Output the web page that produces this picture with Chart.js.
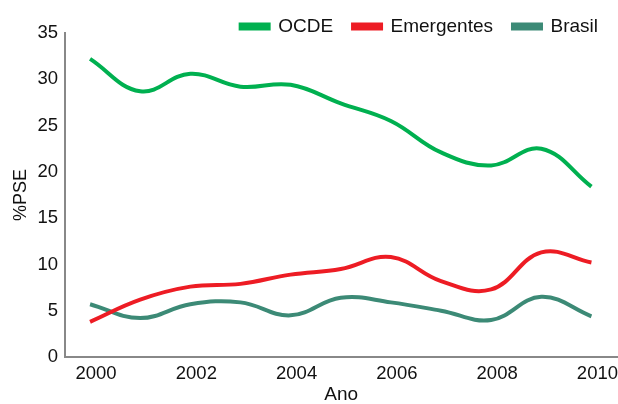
<!DOCTYPE html>
<html>
<head>
<meta charset="utf-8">
<script src="https://cdn.jsdelivr.net/npm/chart.js@4.4.1/dist/chart.umd.min.js"></script>
<style>
  html, body { margin: 0; padding: 0; background: #ffffff; }
  #wrap { width: 618px; height: 404px; position: relative; }
</style>
</head>
<body>
<div id="wrap"><canvas id="c" width="618" height="404"></canvas></div>
<script>
const years = [2000, 2001, 2002, 2003, 2004, 2005, 2006, 2007, 2008, 2009, 2010];
const tickYears = [2000, 2002, 2004, 2006, 2008, 2010];
const ocde = [32.2, 28.7, 30.6, 29.2, 29.4, 27.4, 25.5, 22.1, 20.7, 22.5, 18.4];
const emergentes = [3.8, 6.2, 7.6, 7.9, 8.9, 9.5, 10.8, 8.2, 7.3, 11.3, 10.2];
const brasil = [5.7, 4.2, 5.7, 5.9, 4.5, 6.4, 5.9, 5.0, 4.0, 6.5, 4.4];
const seriesNames = ['OCDE', 'Emergentes', 'Brasil'];
const seriesColors = ['#00B050', '#ED1C24', '#3C8A76'];
const seriesValues = [ocde, emergentes, brasil];

const FONT = "'Liberation Sans', Arial, sans-serif";

const datasets = seriesNames.map((name, i) => ({
  label: name,
  data: years.map((y, j) => ({ x: y, y: seriesValues[i][j] })),
  borderColor: seriesColors[i],
  backgroundColor: seriesColors[i],
  borderWidth: 4,
  pointRadius: 0,
  tension: 0.4,
  fill: false
}));

const legendFix = {
  id: 'legendFix',
  afterInit(chart) {
    const lg = chart.legend;
    const origFit = lg.fit;
    lg.fit = function () { origFit.call(this); this.height = 36; };
    const origDraw = lg.draw;
    lg.draw = function () {
      const b = this.bottom;
      this.bottom = b + 12;
      origDraw.call(this);
      this.bottom = b;
    };
  }
};

new Chart(document.getElementById('c'), {
  type: 'line',
  data: { datasets },
  plugins: [legendFix],
  options: {
    responsive: false,
    animation: false,
    layout: { padding: { top: -3, right: 0, left: 2, bottom: 0 } },
    plugins: {
      tooltip: { enabled: false },
      legend: {
        position: 'top',
        align: 'end',
        labels: {
          font: { family: FONT, size: 19 },
          color: '#111',
          boxWidth: 28,
          boxHeight: 4,
          padding: 20
        }
      }
    },
    scales: {
      x: {
        type: 'linear',
        min: 1999.5,
        max: 2010.52,
        afterBuildTicks: (s) => { s.ticks = tickYears.map(v => ({ value: v })); },
        afterFit: (s) => { s.height = 47; },
        grid: { display: false, drawTicks: false },
        border: { display: true, color: '#888888', width: 2 },
        ticks: {
          font: { family: FONT, size: 18.5 },
          color: '#111',
          padding: 6,
          labelOffset: 6,
          maxRotation: 0,
          callback: (v) => String(v)
        },
        title: {
          display: true,
          text: 'Ano',
          font: { family: FONT, size: 19, lineHeight: 1 },
          color: '#111',
          padding: { top: 0, bottom: 0 }
        }
      },
      y: {
        min: 0,
        max: 35,
        afterFit: (s) => { s.width = 63; },
        grid: { display: false, drawTicks: false },
        border: { display: true, color: '#888888', width: 2 },
        ticks: {
          stepSize: 5,
          font: { family: FONT, size: 18.5 },
          color: '#111',
          padding: 7
        },
        title: {
          display: true,
          text: '%PSE',
          font: { family: FONT, size: 18 },
          color: '#111',
          padding: { top: 8, bottom: 2 }
        }
      }
    }
  }
});
</script>
</body>
</html>
